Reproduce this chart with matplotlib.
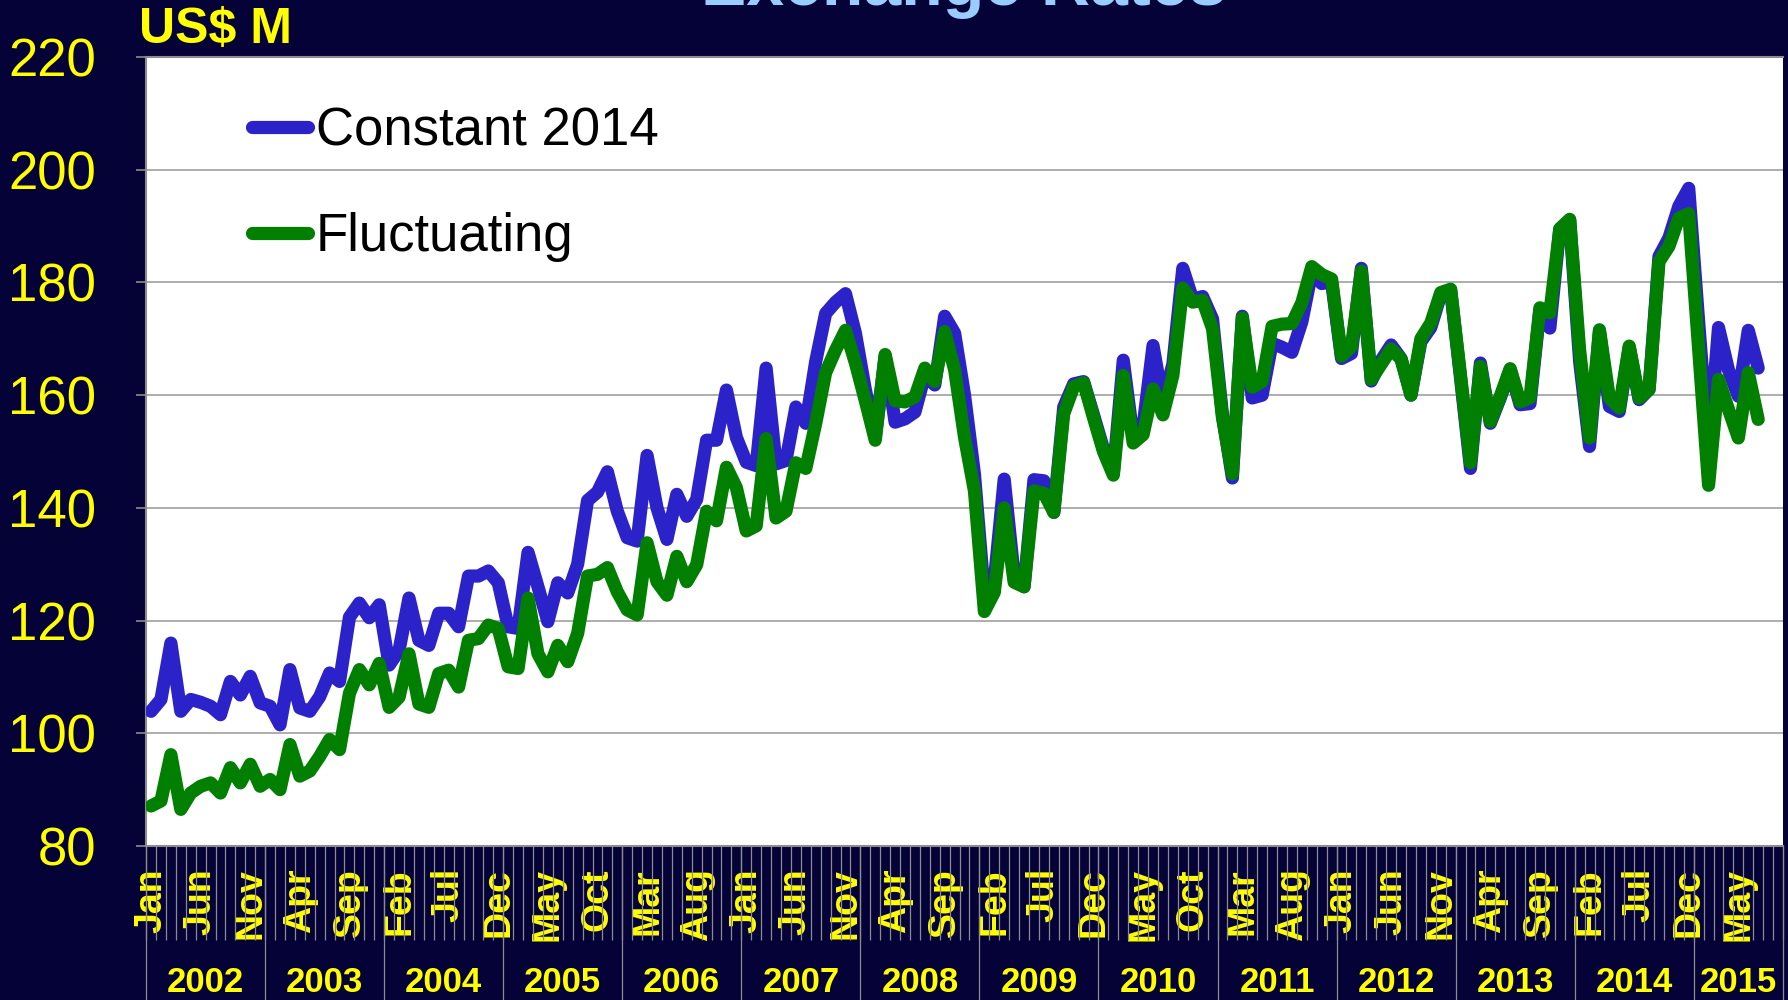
import numpy as np
import pandas as pd
import matplotlib
matplotlib.use('Agg')
import matplotlib.pyplot as plt

plt.rcParams['font.family'] = ['Liberation Sans', 'DejaVu Sans']

# monthly values, Jan 2002 - Jul 2015 (axis categories run to Sep 2015)
months = pd.date_range('2002-01-01', '2015-09-01', freq='MS')

constant_2014 = [
    103.9, 106.0, 116.0, 103.9, 106.0, 105.5, 104.8, 103.3, 109.2, 106.8, 110.1, 105.4,
    104.8, 101.5, 111.3, 104.5, 103.9, 106.5, 110.7, 109.2, 120.6, 123.1, 120.5, 122.8,
    112.1, 114.7, 124.0, 116.5, 115.6, 121.3, 121.3, 118.9, 127.9, 127.9, 128.8, 126.7,
    118.9, 118.6, 132.1, 126.0, 119.8, 126.7, 124.9, 130.0, 141.3, 142.8, 146.4,
    139.4, 134.7, 134.1, 149.3, 140.0, 134.4, 142.4, 138.5, 141.5, 152.0, 152.0, 160.9,
    152.5, 148.1, 147.5, 164.8, 147.8, 148.4,
    157.9, 155.0, 166.0, 174.5, 176.5, 178.0,
    171.0, 161.0, 152.5, 167.0, 155.2, 155.8, 157.0, 163.6, 161.8,
    174.0, 171.0, 160.0, 146.0, 124.5, 127.0, 145.1, 128.0, 126.0, 145.0, 144.8, 139.2, 157.9,
    162.0, 162.4, 156.5, 150.5, 146.2, 166.2, 152.5, 154.5, 168.8, 158.7, 165.5, 182.5,
    177.0, 177.5, 173.5, 156.5, 145.3, 174.0, 159.5, 160.0, 169.2, 168.5, 167.6, 173.0,
    181.8, 179.8, 180.1, 166.5, 167.4, 182.5, 162.5, 166.2, 168.9, 166.5, 160.0, 169.5,
    172.0, 177.8,
    178.6, 163.0, 147.0, 165.7, 155.0, 159.5, 164.5, 158.3, 158.5, 175.2, 171.9, 189.5,
    191.0, 166.0, 150.9, 171.3, 158.0, 157.1, 168.5, 159.2, 161.0, 184.6, 187.9, 193.5,
    196.7, 173.0, 150.0, 172.0, 164.5, 159.8, 171.5, 164.8,
]

fluctuating = [
    87.1, 88.0, 96.2, 86.5, 89.4, 90.6, 91.2, 89.4, 93.9, 91.2, 94.5, 90.6,
    91.8, 90.0, 98.0, 92.4, 93.3, 95.9, 98.9, 97.1, 107.1, 111.3, 108.6, 112.4,
    104.6, 106.4, 114.1, 105.2, 104.6, 110.6, 111.2, 108.2, 116.5, 116.8, 119.2, 118.6,
    111.8, 111.5, 124.0, 114.1, 110.9, 115.6, 112.7, 117.7, 127.9, 128.2, 129.4,
    125.1, 121.9, 121.0, 133.8, 126.9, 124.5, 131.4, 126.9, 129.9, 139.4, 137.7, 147.2,
    143.6, 135.9, 136.8, 152.3, 138.2, 139.4,
    148.0, 147.0, 155.0, 164.0, 168.0, 171.5,
    165.7, 159.0, 152.0, 167.2, 159.0, 158.8, 159.7, 164.8, 162.4,
    171.3, 164.5, 152.5, 143.0, 121.6, 125.0, 140.0, 126.8, 126.0, 143.0, 142.6, 139.2, 156.7,
    161.5, 162.2, 156.0, 150.0, 145.8, 163.5, 151.5, 153.0, 161.1, 156.5, 163.5, 179.0,
    176.5, 176.8, 171.8, 156.0, 146.0, 173.7, 161.4, 162.4, 172.2, 172.6, 172.7, 176.4,
    182.8, 181.4, 180.6, 166.9, 168.6, 182.0, 162.8, 165.5, 168.2, 166.4, 160.0, 170.0,
    172.8, 178.2,
    178.8, 163.4, 148.0, 165.1, 155.3, 159.8, 164.7, 158.8, 159.5, 175.5, 174.6, 189.5,
    191.2, 168.0, 152.4, 171.6, 159.5, 157.7, 168.7, 159.5, 161.0, 183.7, 186.4, 191.4,
    192.2, 168.0, 144.0, 162.8, 157.5, 152.4, 164.0, 155.7,
]

NAVY = '#050238'
BLUE = '#2B22C9'
GREEN = '#007F00'
YELLOW = '#FFFF00'
GREY = '#8C8C8C'

fig = plt.figure(figsize=(17.88, 10), dpi=100, facecolor=NAVY)
ax = fig.add_axes([0.0817, 0.154, 0.9155, 0.789])
ax.set_facecolor('white')

x = np.arange(len(constant_2014))
line_kw = dict(lw=9.5, solid_joinstyle='round', solid_capstyle='round')
ax.plot(x, constant_2014, color=BLUE, label='Constant 2014', zorder=3, **line_kw)
ax.plot(x, fluctuating, color=GREEN, label='Fluctuating', zorder=4, **line_kw)

ax.set_xlim(-0.5, len(months) - 0.5)
ax.set_ylim(80, 220)
ax.set_yticks(range(80, 221, 20))
ax.yaxis.grid(True, color='#A0A0A0', lw=1.2)
ax.set_axisbelow(True)
ax.tick_params(axis='y', colors=GREY, labelcolor=YELLOW, labelsize=38,
               length=7, width=1.2, pad=29)

# month labels every 5 months, tick marks at every month boundary
major = [i for i in range(len(months)) if i % 5 == 0]
ax.set_xticks(major)
ax.set_xticklabels([months[i].strftime('%b') for i in major], rotation=90,
                   fontweight='bold', color=YELLOW, fontsize=27)
ax.set_xticks(np.arange(-0.5, len(months)), minor=True)
ax.tick_params(axis='x', which='major', length=0, pad=16)
ax.tick_params(axis='x', which='minor', length=68, color=GREY, width=0.9)

for side in ['left', 'bottom', 'top']:
    ax.spines[side].set_color(GREY)
    ax.spines[side].set_linewidth(1.5)
ax.spines['right'].set_visible(False)

# year blocks below the month labels
trans = ax.get_xaxis_transform()
years = sorted(set(months.year))
for yr in years:
    idx = np.where(months.year == yr)[0]
    start, end = idx[0] - 0.5, idx[-1] + 0.5
    ax.plot([start, start], [0, -0.2], transform=trans, clip_on=False,
            color=GREY, lw=0.9)
    ax.text((start + end) / 2, -0.173, str(yr), transform=trans,
            ha='center', va='center', color=YELLOW, fontsize=25, fontweight='bold')
ax.plot([len(months) - 0.5] * 2, [0, -0.2], transform=trans, clip_on=False,
        color=GREY, lw=0.9)

ax.legend(loc='upper left', bbox_to_anchor=(0.065, 0.937), frameon=False,
          fontsize=38, handlelength=1.05, handletextpad=0.15, labelspacing=1.05,
          borderpad=0, borderaxespad=0)

fig.text(0.0775, 0.957, 'US$ M', color=YELLOW, fontsize=36, fontweight='bold',
         ha='left', va='baseline')
fig.text(0.539, 0.995, 'Exchange Rates', color='#99CCFF', fontsize=49,
         fontweight='bold', ha='center', va='baseline')

fig.savefig('out.png', dpi=100, facecolor=NAVY)
